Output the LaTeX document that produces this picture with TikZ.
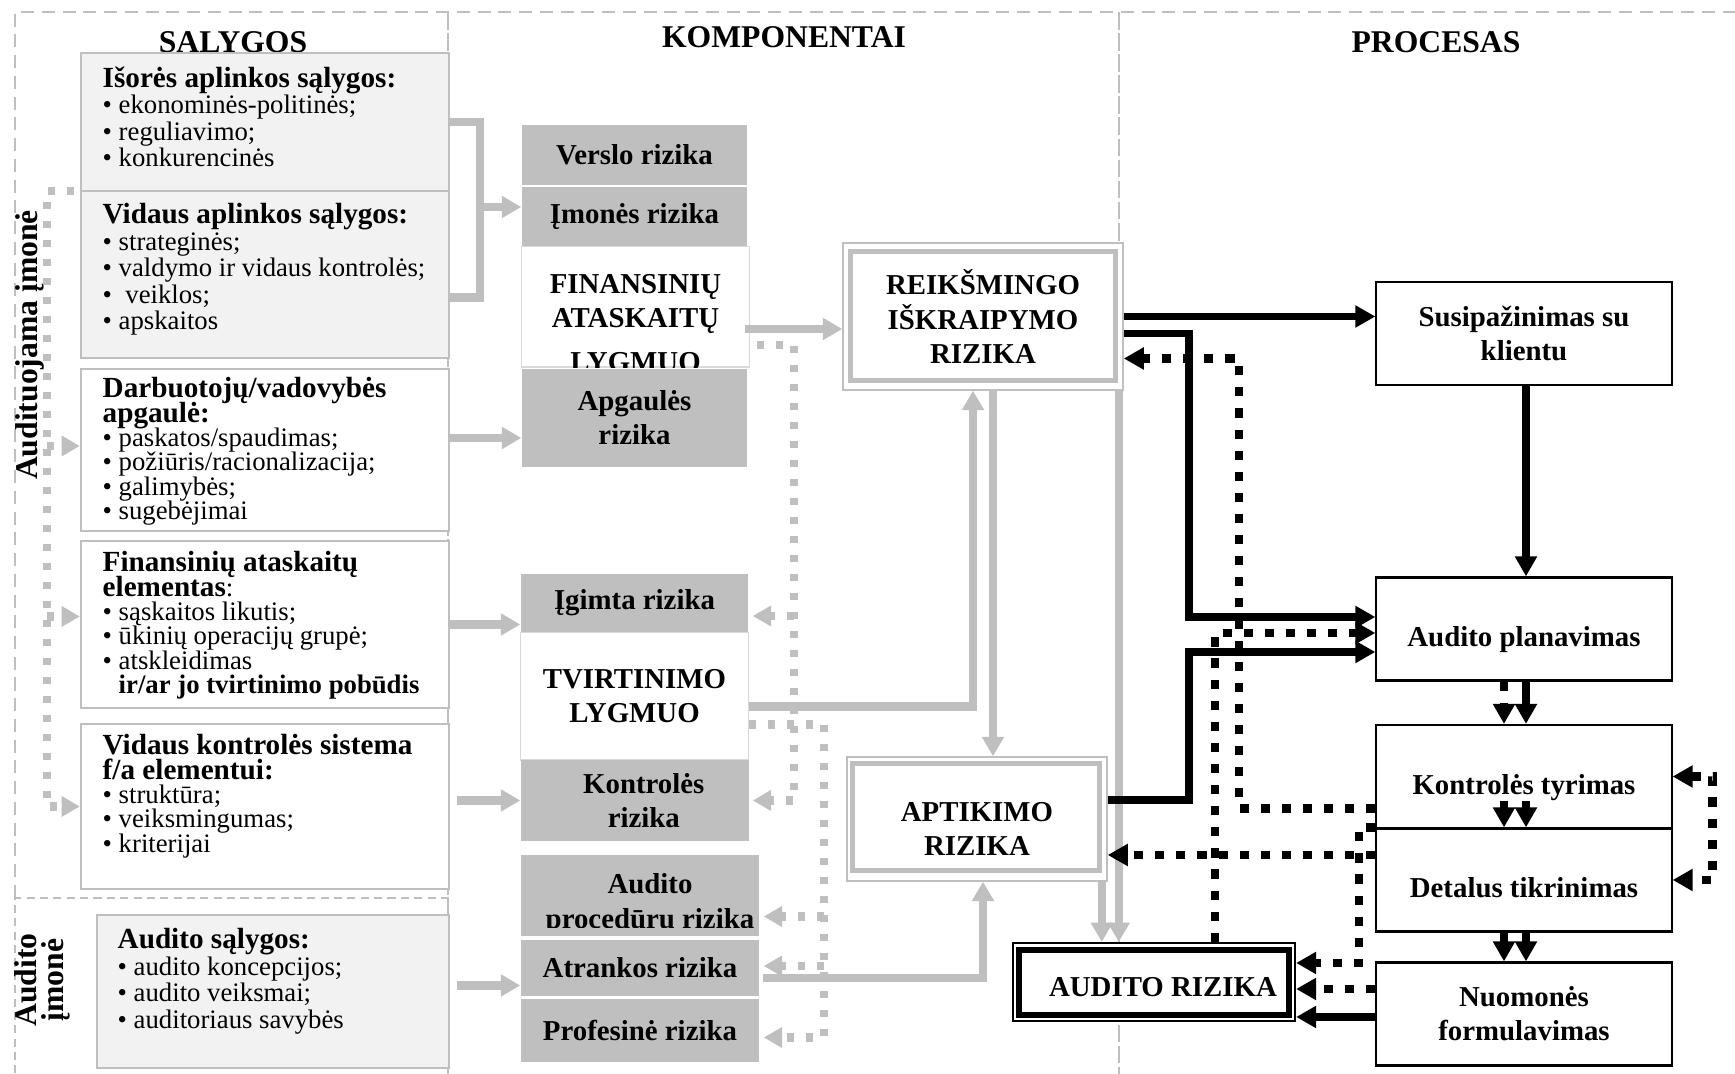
\documentclass[tikz,border=0pt]{standalone}
\usepackage{fontspec}
\setmainfont{Liberation Serif}
\usetikzlibrary{arrows.meta}

\newcommand{\boxtitle}[1]{\textbf{\fontsize{8.3}{7}\selectfont #1}}
\lineskiplimit=-20pt

\tikzset{
  outerdash/.style={draw=black!25, line width=0.6pt, dash pattern=on 3.7pt off 2.2pt},
  innerdash/.style={draw=black!25, line width=0.35pt, dash pattern=on 2.3pt off 1.5pt},
  colsep/.style={draw=black!25, line width=0.5pt, dash pattern=on 5pt off 1pt},
  hdr/.style={inner sep=0pt, font=\bfseries\fontsize{9}{10}\selectfont},
  lbox/.style={draw=black!25, line width=0.6pt, fill=white, minimum width=3.68cm, inner sep=0pt},
  ltxt/.style={anchor=north west, inner sep=0pt, align=left, font=\fontsize{7.6}{6.9}\selectfont},
  mtxt/.style={inner sep=0pt, align=center, font=\bfseries\fontsize{8.2}{9.7}\selectfont},
  rbox/.style={mtxt, fill=black!25, minimum width=2.25cm},
  wbox/.style={mtxt, draw=black!15, line width=0.3pt, fill=white, minimum width=2.27cm},
  dbox/.style={mtxt, draw=black!25, line width=0.4pt, fill=white},
  pbox/.style={mtxt, draw=black, line width=0.6pt, fill=white, minimum width=2.95cm, minimum height=1.03cm},
  oneline/.style={text height=11.8pt, text depth=1.8pt},
  gline/.style={draw=black!25, line width=2.4pt},
  garrow/.style={gline, -{Triangle[length=5.5pt, width=6pt]}},
  gdot/.style={draw=black!25, line width=2.3pt, dash pattern=on 2pt off 3.4pt},
  gdotarrow/.style={gdot, -{Triangle[length=5.2pt, width=5.6pt]}},
  bline/.style={draw=black, line width=2.2pt},
  barrow/.style={bline, -{Triangle[length=5.7pt, width=6pt]}},
  bdot/.style={draw=black, line width=2.4pt, dash pattern=on 2.6pt off 3.4pt},
  bdotarrow/.style={bdot, -{Triangle[length=5.7pt, width=6pt]}},
}

\begin{document}
\begin{tikzpicture}[x=0.01cm, y=-0.01cm]
  \useasboundingbox (0,0) rectangle (1735,1074);

  % frames
  \draw[outerdash] (15,898) -- (15,12) -- (1735,12);
  \draw[innerdash] (449,898) -- (15,898) -- (15,1074);
  \draw[colsep] (448,12) -- (448,1074);
  \draw[colsep] (1119,12) -- (1119,1074);

  \node[hdr] (salyg) at (233,42) {SALYGOS};
  \node[hdr] (komp) at (784,37) {KOMPONENTAI};
  \node[hdr] (proc) at (1436,42) {PROCESAS};
  \node[hdr, rotate=90] (audituojama) at (30,345) {Audituojama įmonė};
  \node[hdr, rotate=90, align=center, font=\bfseries\fontsize{9}{7.6}\selectfont] (auditoimone) at (42,980) {Audito\\įmonė};

  % salygos
  \node[lbox, fill=black!5, minimum height=1.38cm] (isores) at (265,122) {};
  \node[lbox, fill=black!5, minimum height=1.67cm] (vidaus) at (265,274.5) {};
  \node[lbox, minimum height=1.62cm] (darb) at (265,450) {};
  \node[lbox, minimum height=1.67cm] (finel) at (265,624.5) {};
  \node[lbox, minimum height=1.65cm] (vks) at (265,806.5) {};
  \node[lbox, fill=black!5, minimum width=3.52cm, minimum height=1.53cm] (ausal) at (273,991.5) {};

  \node[ltxt, font=\fontsize{7.6}{7.5}\selectfont] (isores-t) at (102,66)
    {\boxtitle{Išorės aplinkos sąlygos:}\\• ekonominės-politinės;\\• reguliavimo;\\• konkurencinės};
  \node[ltxt, font=\fontsize{7.6}{7.5}\selectfont] (vidaus-t) at (102,203)
    {\boxtitle{Vidaus aplinkos sąlygos:}\\• strateginės;\\• valdymo ir vidaus kontrolės;\\•~ veiklos;\\• apskaitos};
  \node[ltxt] (darb-t) at (102,377)
    {\boxtitle{Darbuotojų/vadovybės}\\\boxtitle{apgaulė:}\\• paskatos/spaudimas;\\• požiūris/racionalizacija;\\• galimybės;\\• sugebėjimai};
  \node[ltxt] (finel-t) at (102,551)
    {\boxtitle{Finansinių ataskaitų}\\\boxtitle{elementas}:\\• sąskaitos likutis;\\• ūkinių operacijų grupė;\\• atskleidimas\\\phantom{• }\textbf{ir/ar jo tvirtinimo pobūdis}};
  \node[ltxt] (vks-t) at (102,734)
    {\boxtitle{Vidaus kontrolės sistema}\\\boxtitle{f/a elementui:}\\• struktūra;\\• veiksmingumas;\\• kriterijai};
  \node[ltxt, font=\fontsize{7.6}{7.5}\selectfont] (ausal-t) at (117,928)
    {\boxtitle{Audito sąlygos:}\\• audito koncepcijos;\\• audito veiksmai;\\• auditoriaus savybės};

  % komponentai
  \node[rbox, minimum height=0.60cm] (verslo) at (634.5,155) {Verslo rizika};
  \node[rbox, minimum height=0.59cm] (imones) at (634.5,216.5) {Įmonės rizika};
  \node[wbox, minimum height=1.20cm] (finlyg) at (635.5,307) {};
  \begin{scope}
    \clip (finlyg.north west) rectangle (finlyg.south east);
    \node[mtxt, anchor=north] (finlyg-t) at ([shift={(0,27)}]finlyg.north) {FINANSINIŲ\\ATASKAITŲ\\[2.8pt]LYGMUO};
  \end{scope}
  \node[rbox, minimum height=0.98cm] (apgaul) at (634.5,418) {Apgaulės\\rizika};
  \node[rbox, minimum width=2.27cm, minimum height=0.58cm] (igimta) at (634.5,603) {Įgimta rizika};
  \node[wbox, minimum height=1.27cm] (tvirt) at (634.5,696.5) {TVIRTINIMO\\LYGMUO};
  \node[rbox, minimum width=2.28cm, minimum height=0.81cm] (kontr) at (635,800.5)
    {\hspace*{5pt}Kontrolės\\\hspace*{5pt}rizika};
  \node[rbox, minimum width=2.38cm, minimum height=0.81cm] (audproc) at (640,895.5) {};
  \begin{scope}
    \clip (audproc.north west) rectangle ([shift={(0,-9)}]audproc.south east);
    \node[mtxt, anchor=north] (audproc-t) at ([shift={(10,19)}]audproc.north) {Audito\\procedūrų rizika};
  \end{scope}
  \node[rbox, minimum width=2.38cm, minimum height=0.56cm] (atrank) at (640,968) {Atrankos rizika};
  \node[rbox, minimum width=2.38cm, minimum height=0.63cm] (prof) at (640,1030.5) {Profesinė rizika};

  \node[dbox, minimum width=2.80cm, minimum height=1.47cm] (reik) at (983,316.5) {REIKŠMINGO\\IŠKRAIPYMO\\RIZIKA};
  \draw[black!25, line width=1.5pt] ([shift={(8,9)}]reik.north west) rectangle ([shift={(-8,-10)}]reik.south east);
  \node[dbox, minimum width=2.60cm, minimum height=1.24cm] (aptik) at (977,819) {};
  \draw[black!25, line width=1.5pt] ([shift={(6,7)}]aptik.north west) rectangle ([shift={(-8,-11)}]aptik.south east);
  \node[mtxt] (aptik-t) at ([shift={(0,10)}]aptik.center) {APTIKIMO\\RIZIKA};
  \node[dbox, draw=black, line width=0.6pt, minimum width=2.82cm, minimum height=0.78cm] (audrz) at (1154,982) {};
  \draw[black, line width=1.6pt] ([shift={(7,8)}]audrz.north west) rectangle ([shift={(-7,-7)}]audrz.south east);
  \node[mtxt] (audrz-t) at ([shift={(9,5)}]audrz.center) {AUDITO RIZIKA};

  % procesas
  \node[pbox] (susip) at (1524,333.5) {Susipažinimas su\\klientu};
  \node[pbox, oneline] (planav) at (1524,629) {Audito planavimas};
  \node[pbox, oneline] (kontyr) at (1524,776.5) {Kontrolės tyrimas};
  \node[pbox, oneline] (detal) at (1524,880) {Detalus tikrinimas};
  \node[pbox] (nuom) at (1524,1014) {Nuomonės\\formulavimas};

  % gray connectors
  \coordinate (brk) at (480,207);
  \draw[gline] (isores.east) -| (brk) |- ([shift={(0,23)}]vidaus.east);
  \draw[garrow] (brk) -- (imones.west |- brk);
  \draw[garrow] ([shift={(0,-12)}]darb.east) coordinate (g1) -- (apgaul.west |- g1);
  \draw[garrow] (finel.east) -- (igimta.west |- finel.east);
  \draw[garrow, shorten <=2pt] (vks.east |- kontr.west) -- (kontr.west);
  \draw[garrow, shorten <=2pt] ([shift={(0,-6)}]ausal.east) coordinate (g2) -- (atrank.west |- g2);
  \draw[garrow] ([shift={(-5,22)}]finlyg.east) coordinate (g3) -- (reik.west |- g3);
  \draw[garrow] ([shift={(0,10)}]tvirt.east) -| ([shift={(-10,0)}]reik.south);
  \draw[garrow] ([shift={(10,0)}]reik.south) coordinate (g4) -- (g4 |- aptik.north);
  \draw[garrow] ([shift={(3,10)}]atrank.east) -| ([shift={(6,0)}]aptik.south);
  \draw[garrow] ([shift={(-5,0)}]reik.south east) coordinate (g5) -- (g5 |- audrz.north);
  \draw[garrow] ([shift={(-6,0)}]aptik.south east) coordinate (g6) -- (g6 |- audrz.north);

  \draw[gdotarrow] ([shift={(-6,1)}]vidaus.north west) -| ([shift={(-33,0)}]vks.west) -- (vks.west);
  \draw[gdotarrow] ([shift={(-33,-4)}]darb.west) -- ([shift={(0,-4)}]darb.west);
  \draw[gdotarrow] ([shift={(-33,-8)}]finel.west) -- ([shift={(0,-8)}]finel.west);
  \draw[gdotarrow] ([shift={(7,38)}]finlyg.east) -| ([shift={(44,0)}]kontr.east) -- ([shift={(3,0)}]kontr.east);
  \draw[gdotarrow] ([shift={(45,13)}]igimta.east) -- ([shift={(4,13)}]igimta.east);
  \draw[gdotarrow] ([shift={(0,28)}]tvirt.east) -| ([shift={(64,7)}]prof.east) -- ([shift={(4,7)}]prof.east);
  \draw[gdotarrow] ([shift={(64,21)}]audproc.east) -- ([shift={(4,21)}]audproc.east);
  \draw[gdotarrow] ([shift={(64,-2)}]atrank.east) -- ([shift={(4,-2)}]atrank.east);

  % black connectors
  \draw[barrow] (reik.east) -- (susip.west |- reik.east);
  \draw[barrow] ([shift={(0,17)}]reik.east) -| ([shift={(-186,-12)}]planav.west) -- ([shift={(0,-12)}]planav.west);
  \draw[barrow] ([shift={(0,-19)}]aptik.east) -| ([shift={(-186,23)}]planav.west) -- ([shift={(0,23)}]planav.west);
  \draw[barrow] ([shift={(2,0)}]susip.south) -- ([shift={(2,0)}]planav.north);
  \draw[barrow] ([shift={(2,0)}]planav.south) -- ([shift={(2,0)}]kontyr.north);
  \draw[bdotarrow] ([shift={(-20,0)}]planav.south) -- ([shift={(-20,0)}]kontyr.north);
  \draw[barrow] ([shift={(2,-26)}]detal.north) -- ([shift={(2,0)}]detal.north);
  \draw[bdotarrow] ([shift={(-20,-26)}]detal.north) -- ([shift={(-20,0)}]detal.north);
  \draw[barrow] ([shift={(2,0)}]detal.south) -- ([shift={(2,0)}]nuom.north);
  \draw[bdotarrow] ([shift={(-20,0)}]detal.south) -- ([shift={(-20,0)}]nuom.north);

  \draw[barrow] ([shift={(0,3)}]nuom.west) coordinate (b0) -- (audrz.east |- b0);
  \draw[bdotarrow] ([shift={(0,-25)}]nuom.west) coordinate (b1) -- (audrz.east |- b1);
  \draw[bdotarrow] (detal.north west) -| ([shift={(63,-19)}]audrz.east) -- ([shift={(0,-19)}]audrz.east);
  \draw[bdotarrow] ([shift={(0,-25)}]detal.west) coordinate (b2) -- (aptik.east |- b2);
  \draw[bdotarrow] ([shift={(0,32)}]kontyr.west) -| ([shift={(115,42)}]reik.east) -- ([shift={(0,42)}]reik.east);
  \draw[bdotarrow] ([shift={(61,0)}]audrz.north) |- ([shift={(0,4)}]planav.west);
  \draw[bdot, {Triangle[length=5.7pt, width=6pt]}-{Triangle[length=5.7pt, width=6pt]}]
    (kontyr.east) -| ([shift={(40,0)}]detal.east) -- (detal.east);
\end{tikzpicture}
\end{document}
